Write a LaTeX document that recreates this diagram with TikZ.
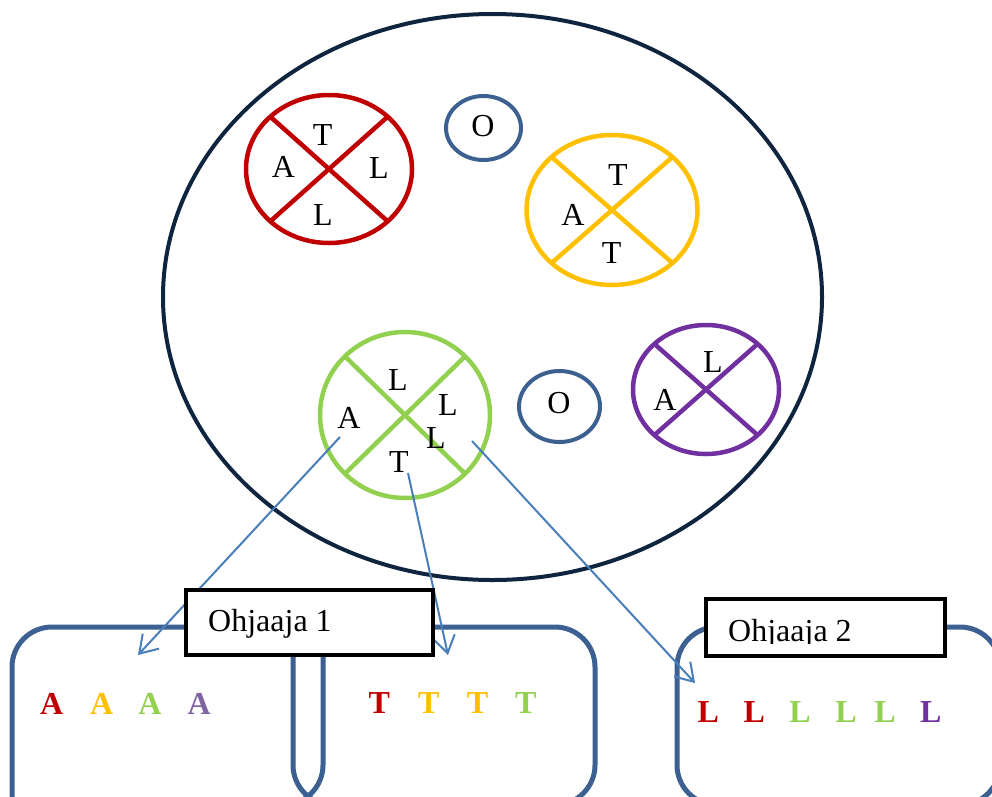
\documentclass[tikz,border=0pt]{standalone}
\usepackage{fontspec}
\setmainfont{Liberation Serif}
\usetikzlibrary{shapes.geometric,arrows.meta}
\definecolor{cred}{HTML}{C00000}
\definecolor{cyel}{HTML}{FFC000}
\definecolor{cgrn}{HTML}{92D050}
\definecolor{cpur}{HTML}{7030A0}
\definecolor{cpurl}{HTML}{8064A2}
\definecolor{oblue}{HTML}{3C6090}
\definecolor{bblue}{HTML}{3B6091}
\definecolor{navy}{HTML}{0F243E}
\definecolor{ablue}{HTML}{4A7EBB}
\begin{document}
\begin{tikzpicture}[x=1pt,y=-1pt,
  xcirc/.style={ellipse, draw=#1, line width=4.5pt, outer sep=0pt, inner sep=0pt},
  ocirc/.style={ellipse, draw=oblue, line width=4pt, outer sep=0pt, inner sep=0pt},
  xline/.style={draw=#1, line width=4.5pt},
  lett/.style={font=\fontsize{32}{36}\selectfont, inner sep=0pt},
  blett/.style={font=\bfseries\fontsize{32}{36}\selectfont, inner sep=0pt, text=#1},
  bbox/.style={draw=bblue, line width=5pt, rounded corners=40pt},
  lbox/.style={draw=black, line width=4pt, fill=white, inner sep=0pt, outer sep=0pt, anchor=north west},
  ltext/.style={font=\fontsize{32}{36}\selectfont, inner sep=0pt, anchor=base west},
  arr/.style={draw=ablue, line width=2pt, -{Straight Barb[length=17pt,width=22pt]}}]
\useasboundingbox (0,0) rectangle (992,796);
\clip (0,0) rectangle (992,796);

% big ellipse
\node[ellipse, draw=navy, line width=4pt, minimum width=659pt, minimum height=566pt, inner sep=0pt] (big) at (492.5,297) {};

% red circle
\node[xcirc=cred, minimum width=166pt, minimum height=148pt] (rc) at (329,169) {};
\draw[xline=cred] (rc.north west) -- (rc.south east);
\draw[xline=cred] (rc.north east) -- (rc.south west);
\node[lett] (r1) at (322.7,135) {T};
\node[lett] (r2) at (283.3,166.7) {A};
\node[lett] (r3) at (379,168) {L};
\node[lett] (r4) at (323,215) {L};

% yellow circle
\node[xcirc=cyel, minimum width=171pt, minimum height=150pt] (yc) at (612,210) {};
\draw[xline=cyel] (yc.north west) -- (yc.south east);
\draw[xline=cyel] (yc.north east) -- (yc.south west);
\node[lett] (y1) at (618,175) {T};
\node[lett] (y2) at (573,215) {A};
\node[lett] (y3) at (611.7,253) {T};

% purple circle
\node[xcirc=cpur, minimum width=146pt, minimum height=129pt] (pc) at (706,389.5) {};
\draw[xline=cpur] (pc.north west) -- (pc.south east);
\draw[xline=cpur] (pc.north east) -- (pc.south west);
\node[lett] (p1) at (713,362) {L};
\node[lett] (p2) at (665,400) {A};

% green circle
\node[xcirc=cgrn, minimum width=170pt, minimum height=166pt] (gc) at (405,415) {};
\draw[xline=cgrn] (gc.north west) -- (gc.south east);
\draw[xline=cgrn] (gc.north east) -- (gc.south west);
\node[lett] (g1) at (398,380) {L};
\node[lett] (g2) at (448,405) {L};
\node[lett] (g3) at (436,438) {L};
\node[lett] (g4) at (399,462) {T};
\node[lett] (g5) at (349,418) {A};

% O circles
\node[ocirc, minimum width=75pt, minimum height=64pt] (o1) at (483.5,128) {};
\node[lett] (o1t) at (483,126) {O};
\node[ocirc, minimum width=81pt, minimum height=71pt] (o2) at (559.5,406.5) {};
\node[lett] (o2t) at (559,403) {O};

% bottom boxes (top inner corners hidden under the label)
\draw[bbox] (12,812) -- (12,627) -- (220,627);
\draw[bbox] (323,640) -- (323,805) -- (200,805);
\draw[bbox] (293,640) -- (293,805) -- (420,805);
\draw[bbox] (420,627) -- (595,627) -- (595,805) -- (450,805);
\draw[bbox] (677,627) rectangle (1000,805);

% arrows
\coordinate (a1s) at (340,437);
\coordinate (a1e) at (138,655);
\coordinate (a2s) at (408,473);
\coordinate (a2e) at (448,655);
\coordinate (a3s) at (472,441);
\coordinate (a3e) at (695,683);
\draw[arr] (a1s) -- (a1e);
\draw[arr] (a2s) -- (a2e);
\draw[arr] (a3s) -- (a3e);

% labels
\node[lbox, minimum width=247pt, minimum height=65pt] (lab1) at (186,590) {};
\node[ltext] (lab1t) at (208,631) {Ohjaaja 1};
\node[lbox, minimum width=239pt, minimum height=57pt] (lab2) at (706,599) {};
\begin{scope}
\clip (706,599) rectangle (945,643);
\node[ltext] (lab2t) at (728,641.7) {Ohjaaja 2};
\end{scope}

% colored letters
\node[blett=cred] (ba1) at (51.7,704) {A};
\node[blett=cyel] (ba2) at (101.7,704) {A};
\node[blett=cgrn] (ba3) at (150,704) {A};
\node[blett=cpurl] (ba4) at (199.3,704) {A};
\node[blett=cred] (bt1) at (379.4,703) {T};
\node[blett=cyel] (bt2) at (428.9,703) {T};
\node[blett=cyel] (bt3) at (477.5,703) {T};
\node[blett=cgrn] (bt4) at (525.7,703) {T};
\node[blett=cred] (bl1) at (708.3,711.7) {L};
\node[blett=cred] (bl2) at (754.3,711.7) {L};
\node[blett=cgrn] (bl3) at (800,711.7) {L};
\node[blett=cgrn] (bl4) at (846,711.7) {L};
\node[blett=cgrn] (bl5) at (885,711.7) {L};
\node[blett=cpur] (bl6) at (930.7,711.7) {L};
\end{tikzpicture}
\end{document}
